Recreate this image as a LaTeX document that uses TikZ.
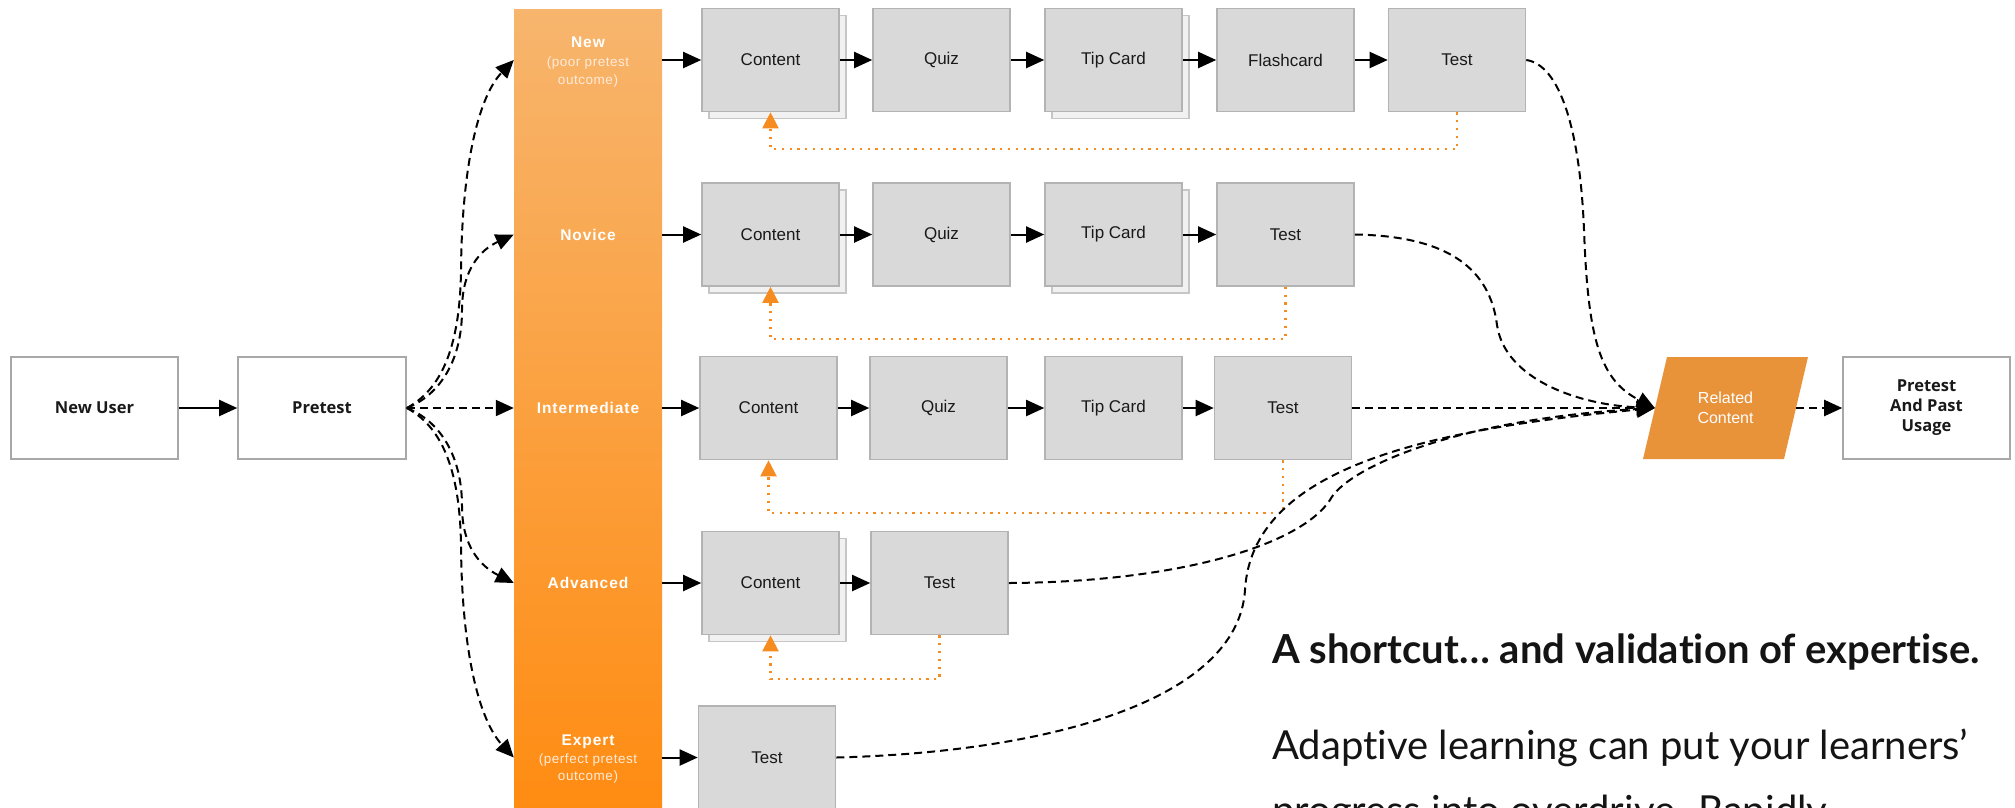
\documentclass[tikz,border=0pt]{standalone}
\usepackage{fontspec}
\setmainfont{Liberation Sans}
\newfontfamily\osans{Open Sans}
\newfontfamily\lato[Ligatures=NoCommon]{Lato}
\newfontfamily\bandfont[LetterSpace=6]{Liberation Sans}
\newfontfamily\subfont[LetterSpace=4]{Liberation Sans}
\usetikzlibrary{arrows.meta}
\definecolor{boxfill}{HTML}{D9D9D9}
\definecolor{boxborder}{HTML}{B3B3B3}
\definecolor{shfill}{HTML}{F1F1F1}
\definecolor{shborder}{HTML}{C6C6C6}
\definecolor{wborder}{HTML}{A8A8A8}
\definecolor{bandtop}{HTML}{F7B56D}
\definecolor{bandbot}{HTML}{FF8C12}
\definecolor{dotor}{HTML}{F68B1F}
\definecolor{rcfill}{HTML}{E8923A}
\definecolor{subtxt}{HTML}{FFEBD8}
\begin{document}
\begin{tikzpicture}[x=1pt,y=-1pt,
  gbox/.style={draw=boxborder, line width=1.6pt, fill=boxfill, minimum width=137pt, minimum height=103pt, inner sep=0pt, text=black!90, font=\fontsize{17}{20}\selectfont},
  sbox/.style={draw=shborder, line width=1.6pt, fill=shfill, minimum width=137pt, minimum height=103pt, inner sep=0pt},
  wbox/.style={draw=wborder, line width=1.6pt, fill=white, minimum height=102pt, inner sep=0pt, align=center, text=black!90, font=\osans\bfseries\fontsize{16.5}{20}\selectfont},
  bandtitle/.style={inner sep=0pt, text=white, font=\bandfont\bfseries\fontsize{15.5}{18}\selectfont},
  bandsub/.style={inner sep=0pt, text=subtxt, font=\subfont\fontsize{13.5}{16}\selectfont},
  arr/.style={-{Triangle[length=18pt,width=16pt]}, line width=2pt},
  darr/.style={arr, dash pattern=on 8pt off 5pt},
  oarr/.style={-{Triangle[length=16pt,width=16pt]}, draw=dotor, line width=2.2pt, dash pattern=on 2.2pt off 5.6pt},
  txt/.style={inner sep=0pt, anchor=base west, text=black!92}
]
\useasboundingbox (0,0) rectangle (2015,807);
\clip (0,0) rectangle (2015,807);

% left boxes
\node[wbox, minimum width=167pt] (nu) at (94.5,408) {New User};
\node[wbox, minimum width=168pt] (pt) at (322,408) {Pretest};

% band
\node[shade, top color=bandtop, bottom color=bandbot, minimum width=148pt, minimum height=800pt, inner sep=0pt] (band) at (588,409) {};
\node[bandtitle] (lNew) at (588,42) {New};
\node[bandsub] (lNewA) at (588,63) {(poor pretest};
\node[bandsub] (lNewB) at (588,81.5) {outcome)};
\node[bandtitle] (lNov) at (588,234.5) {Novice};
\node[bandtitle] (lInt) at (588,408) {Intermediate};
\node[bandtitle] (lAdv) at (588,583) {Advanced};
\node[bandtitle] (lExp) at (588,742) {Expert};
\node[bandsub] (lExpA) at (588,760) {(perfect pretest};
\node[bandsub] (lExpB) at (588,776.5) {outcome)};

% row 1
\node[sbox] (c1s) at (777.5,67) {};
\node[gbox] (c1) at (770.5,60) {Content};
\node[gbox] (q1) at (941.5,60) {Quiz};
\node[sbox] (k1s) at (1120.5,67) {};
\node[gbox] (k1) at (1113.5,60) {Tip Card};
\node[gbox] (f1) at (1285.5,60) {Flashcard};
\node[gbox] (t1) at (1457,60) {Test};
% row 2
\node[sbox] (c2s) at (777.5,241.5) {};
\node[gbox] (c2) at (770.5,234.5) {Content};
\node[gbox] (q2) at (941.5,234.5) {Quiz};
\node[sbox] (k2s) at (1120.5,241.5) {};
\node[gbox] (k2) at (1113.5,234.5) {Tip Card};
\node[gbox] (t2) at (1285.5,234.5) {Test};
% row 3
\node[gbox] (c3) at (768.5,408) {Content};
\node[gbox] (q3) at (938.5,408) {Quiz};
\node[gbox] (k3) at (1113.5,408) {Tip Card};
\node[gbox] (t3) at (1283,408) {Test};
% row 4
\node[sbox] (c4s) at (777.5,590) {};
\node[gbox] (c4) at (770.5,583) {Content};
\node[gbox] (t4) at (939.5,583) {Test};
% row 5
\node[gbox] (t5) at (767,757.5) {Test};

% related content & final box
\fill[rcfill] (1667,357) -- (1808,357) -- (1784,459) -- (1643,459) -- cycle;
\node[minimum width=141pt, minimum height=102pt, inner sep=0pt, align=center, text=white, font=\fontsize{16}{20}\selectfont] (rc) at (1725.5,408) {Related\\Content};
\node[wbox, minimum width=167pt] (pp) at (1926.5,408) {Pretest\\And Past\\Usage};

% solid arrows
\draw[arr] (nu.east) -- (pt.west);
\draw[arr] (band.east |- c1) -- (c1.west);
\draw[arr] (c1.east) -- (q1.west);
\draw[arr] (q1.east) -- (k1.west);
\draw[arr] (k1.east) -- (f1.west);
\draw[arr] (f1.east) -- (t1.west);
\draw[arr] (band.east |- c2) -- (c2.west);
\draw[arr] (c2.east) -- (q2.west);
\draw[arr] (q2.east) -- (k2.west);
\draw[arr] (k2.east) -- (t2.west);
\draw[arr] (band.east |- c3) -- (c3.west);
\draw[arr] (c3.east) -- (q3.west);
\draw[arr] (q3.east) -- (k3.west);
\draw[arr] (k3.east) -- (t3.west);
\draw[arr] (band.east |- c4) -- (c4.west);
\draw[arr] (c4.east) -- (t4.west);
\draw[arr] (band.east |- t5) -- (t5.west);

% dashed arrows from pretest
\draw[darr] (pt.east) .. controls (440,390) and (460,350) .. (461,270) .. controls (462,160) and (480,95) .. (band.west |- c1);
\draw[darr] (pt.east) .. controls (440,395) and (462,360) .. (462,310) .. controls (462,270) and (480,250) .. (band.west |- c2);
\draw[darr] (pt.east) -- (band.west |- c3);
\draw[darr] (pt.east) .. controls (440,421) and (462,456) .. (462,506) .. controls (462,546) and (480,566) .. (band.west |- c4);
\draw[darr] (pt.east) .. controls (440,426) and (460,466) .. (461,546) .. controls (462,656) and (480,721) .. (band.west |- t5);

% dotted feedback loops
\coordinate (r1) at (0,149);
\coordinate (r2) at (0,339);
\coordinate (r3) at (0,513);
\coordinate (r4) at (0,679);
\draw[oarr] (t1.south) -- (t1.south |- r1) -| (c1.south);
\draw[oarr] (t2.south) -- (t2.south |- r2) -| (c2.south);
\draw[oarr] (t3.south) -- (t3.south |- r3) -| (c3.south);
\draw[oarr] (t4.south) -- (t4.south |- r4) -| (c4.south);

% dashed to related content
\draw[darr] (t1.east) .. controls (1560,65) and (1580,130) .. (1584,230) .. controls (1588,340) and (1600,380) .. (rc.west);
\draw[darr] (t2.east) .. controls (1450,236) and (1490,270) .. (1497,325) .. controls (1505,380) and (1580,405) .. (rc.west);
\draw[darr] (t3.east) -- (rc.west);
\draw[darr] (t4.east) .. controls (1180,582) and (1300,545) .. (1330,500) .. controls (1345,470) and (1450,420) .. (rc.west);
\draw[darr] (t5.east) .. controls (1050,752) and (1238,700) .. (1245,590) .. controls (1252,470) and (1420,430) .. (rc.west);
\draw[darr] (rc.east) -- (pp.west);

% text block
\node[txt, font=\lato\bfseries\fontsize{40}{48}\selectfont] (head) at (1272,663) {A shortcut… and validation of expertise.};
\node[txt, font=\lato\fontsize{40}{48}\selectfont] (body1) at (1272,759) {Adaptive learning can put your learners’};
\node[txt, font=\lato\fontsize{40}{48}\selectfont] (body2) at (1272,824) {progress into overdrive. Rapidly};
\end{tikzpicture}
\end{document}
